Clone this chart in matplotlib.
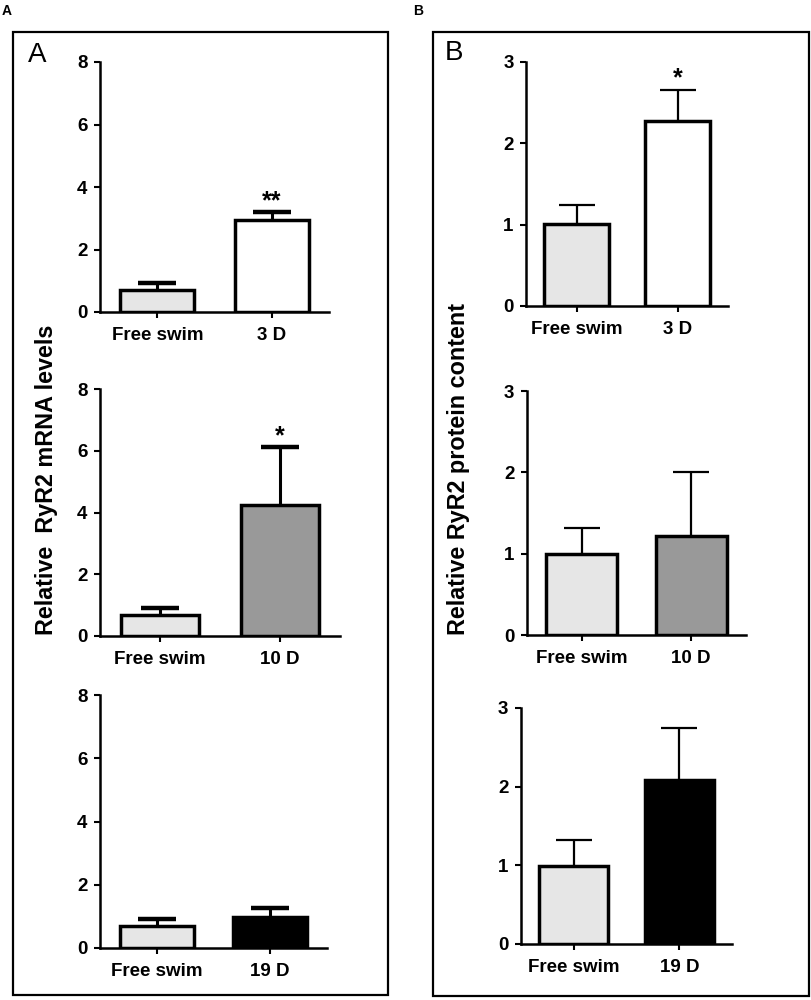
import numpy as np
import matplotlib.pyplot as plt
from matplotlib.patches import Rectangle

plt.rcParams['font.family'] = ['Liberation Sans', 'DejaVu Sans']
plt.rcParams['font.weight'] = 'bold'

# data
groups = ['Free swim']
days = ['3 D', '10 D', '19 D']
day_colors = ['#ffffff', '#999999', '#000000']
free_color = '#e6e6e6'

mrna_free = [0.70, 0.68, 0.70]
mrna_free_err = [0.23, 0.23, 0.22]
mrna_trt = [2.94, 4.24, 0.98]
mrna_trt_err = [0.26, 1.88, 0.29]
mrna_stars = ['**', '*', '']

prot_free = [1.01, 1.00, 0.99]
prot_free_err = [0.23, 0.32, 0.33]
prot_trt = [2.28, 1.22, 2.08]
prot_trt_err = [0.38, 0.78, 0.66]
prot_stars = ['*', '', '']

W, H = 812, 1000
fig = plt.figure(figsize=(W / 100, H / 100), dpi=100)


def px_axes(x0, x1, y0, y1):
    # axes rectangle given in pixel coords (top-left origin)
    return fig.add_axes([x0 / W, 1 - y1 / H, (x1 - x0) / W, (y1 - y0) / H])


def draw_panel(ax, vals, errs, colors, labels, ymax, yticks, star, elw, capw, caps):
    x = np.arange(len(vals))
    ax.bar(x, vals, width=0.65, color=colors, edgecolor='black', linewidth=2.5, zorder=3)
    _, caplines, _ = ax.errorbar(x, vals, yerr=[np.zeros(len(vals)), errs], fmt='none',
                                 ecolor='black', elinewidth=elw, capsize=caps,
                                 capthick=capw, zorder=2)
    caplines[0].set_visible(False)  # upper-only error bars
    if star:
        ax.annotate(star, (x[-1], vals[-1] + errs[-1]), xytext=(0, 3), textcoords='offset points',
                    ha='center', va='baseline', fontsize=18, fontweight='bold')
    ax.set_xlim(-0.5, 1.5)
    ax.set_ylim(0, ymax)
    ax.set_yticks(yticks)
    ax.set_xticks(x)
    ax.set_xticklabels(labels)
    for s in ['top', 'right']:
        ax.spines[s].set_visible(False)
    for s in ['left', 'bottom']:
        ax.spines[s].set_linewidth(1.8)
    ax.tick_params(axis='both', width=1.5, length=4, labelsize=13.5, pad=5)
    ax.tick_params(axis='x', pad=7)
    for lab in ax.get_xticklabels() + ax.get_yticklabels():
        lab.set_fontweight('bold')
    ax.patch.set_alpha(0)


left_boxes = [(100, 329, 62, 312), (100, 340, 389, 636), (100, 327, 695, 948)]
right_boxes = [(526, 728, 62, 306), (527, 746, 391, 635), (521, 732, 708, 944)]

for i in range(3):
    ax = px_axes(*left_boxes[i])
    draw_panel(ax, [mrna_free[i], mrna_trt[i]], [mrna_free_err[i], mrna_trt_err[i]],
               [free_color, day_colors[i]], groups + [days[i]], 8, [0, 2, 4, 6, 8],
               mrna_stars[i], 2.2, 3.2, 14)
    ax = px_axes(*right_boxes[i])
    draw_panel(ax, [prot_free[i], prot_trt[i]], [prot_free_err[i], prot_trt_err[i]],
               [free_color, day_colors[i]], groups + [days[i]], 3, [0, 1, 2, 3],
               prot_stars[i], 1.6, 1.6, 13)

# panel frames
for (x0, x1, y0, y1) in [(13, 388, 32, 995), (433, 809, 32, 996)]:
    fig.patches.append(Rectangle((x0 / W, 1 - y1 / H), (x1 - x0) / W, (y1 - y0) / H,
                                 transform=fig.transFigure, fill=False, edgecolor='black',
                                 linewidth=1.6))

# y labels
fig.text(47 / W, 1 - 480 / H, 'Relative  RyR2 mRNA levels', rotation=90, ha='center', va='center',
         fontsize=16.8, fontweight='bold')
fig.text(459 / W, 1 - 469 / H, 'Relative RyR2 protein content', rotation=90, ha='center', va='center',
         fontsize=16.8, fontweight='bold')

# panel letters
fig.text(28 / W, 1 - 62 / H, 'A', fontsize=20, fontweight='normal', ha='left', va='baseline')
fig.text(445 / W, 1 - 60 / H, 'B', fontsize=20, fontweight='normal', ha='left', va='baseline')
fig.text(2 / W, 1 - 15 / H, 'A', fontsize=10, fontweight='bold', ha='left', va='baseline')
fig.text(413 / W, 1 - 15 / H, 'B', fontsize=10, fontweight='bold', ha='left', va='baseline')

fig.savefig('out.png', dpi=100)
